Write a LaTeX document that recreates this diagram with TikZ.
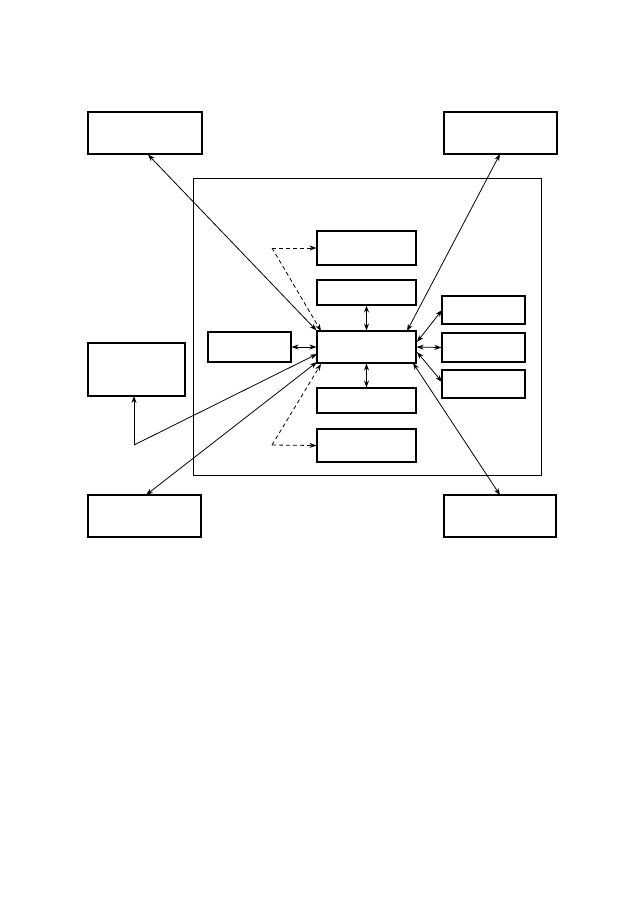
\documentclass[tikz,border=0pt]{standalone}
\usetikzlibrary{arrows.meta}
\begin{document}
\begin{tikzpicture}[x=1pt,y=-1pt,
  box/.style={draw,line width=1.1pt,inner sep=0pt},
  con/.style={line width=0.8pt,{Stealth[length=7pt,width=5pt]}-{Stealth[length=7pt,width=5pt]}},
  one/.style={line width=0.8pt,-{Stealth[length=7pt,width=5pt]}},
  dsh/.style={line width=0.8pt,dashed,dash pattern=on 4pt off 3pt,-{Stealth[length=7pt,width=5pt]}}]
\useasboundingbox (0,0) rectangle (644,903);
% outer frame
\draw[line width=1pt] (193,178) rectangle (541,475);
% boxes
\node[box,minimum width=114pt,minimum height=42pt] (tl) at (145,133) {};
\node[box,minimum width=113pt,minimum height=42pt] (tr) at (500.5,133) {};
\node[box,minimum width=97pt,minimum height=53pt] (lo) at (136.5,369.5) {};
\node[box,minimum width=113pt,minimum height=42pt] (bl) at (144.5,516) {};
\node[box,minimum width=112pt,minimum height=42pt] (br) at (500,516) {};
\node[box,minimum width=99pt,minimum height=32pt] (c) at (366.5,347) {};
\node[box,minimum width=99pt,minimum height=34pt] (b0) at (366.5,248) {};
\node[box,minimum width=99pt,minimum height=25pt] (b1) at (366.5,292.5) {};
\node[box,minimum width=99pt,minimum height=25pt] (b2) at (366.5,400.5) {};
\node[box,minimum width=99pt,minimum height=33pt] (b3) at (366.5,445.5) {};
\node[box,minimum width=83pt,minimum height=30pt] (li) at (249.5,347) {};
\node[box,minimum width=83pt,minimum height=28pt] (r1) at (483.5,310) {};
\node[box,minimum width=83pt,minimum height=29pt] (r2) at (483.5,347.5) {};
\node[box,minimum width=83pt,minimum height=28pt] (r3) at (483.5,384) {};
% coordinates
\coordinate (dt) at (272,248);
\coordinate (db) at (272,445);
\coordinate (bend) at (134,445);
% connectors
\draw[con] (tl.south -| 148,0) -- (c.north west);
\draw[con] (500,154) -- (407,331);
\draw[con] (413,363) -- (500,495);
\draw[con] (317,362) -- (146,495);
\draw[one] (bend) -- (134,396);
\draw[one] (bend) -- (317,354);
\draw[con] (b1.south) -- (c.north);
\draw[con] (b2.north) -- (c.south);
\draw[con] (li.east) -- (c.west);
\draw[con] (c.east) -- (r2.west);
\draw[con] (417,342) -- (442,310);
\draw[con] (417,352) -- (442,382);
\draw[dsh] (dt) -- (b0.west);
\draw[dsh] (dt) -- (321,331);
\draw[dsh] (db) -- (b3.west);
\draw[dsh] (db) -- (321,364);
\end{tikzpicture}
\end{document}
